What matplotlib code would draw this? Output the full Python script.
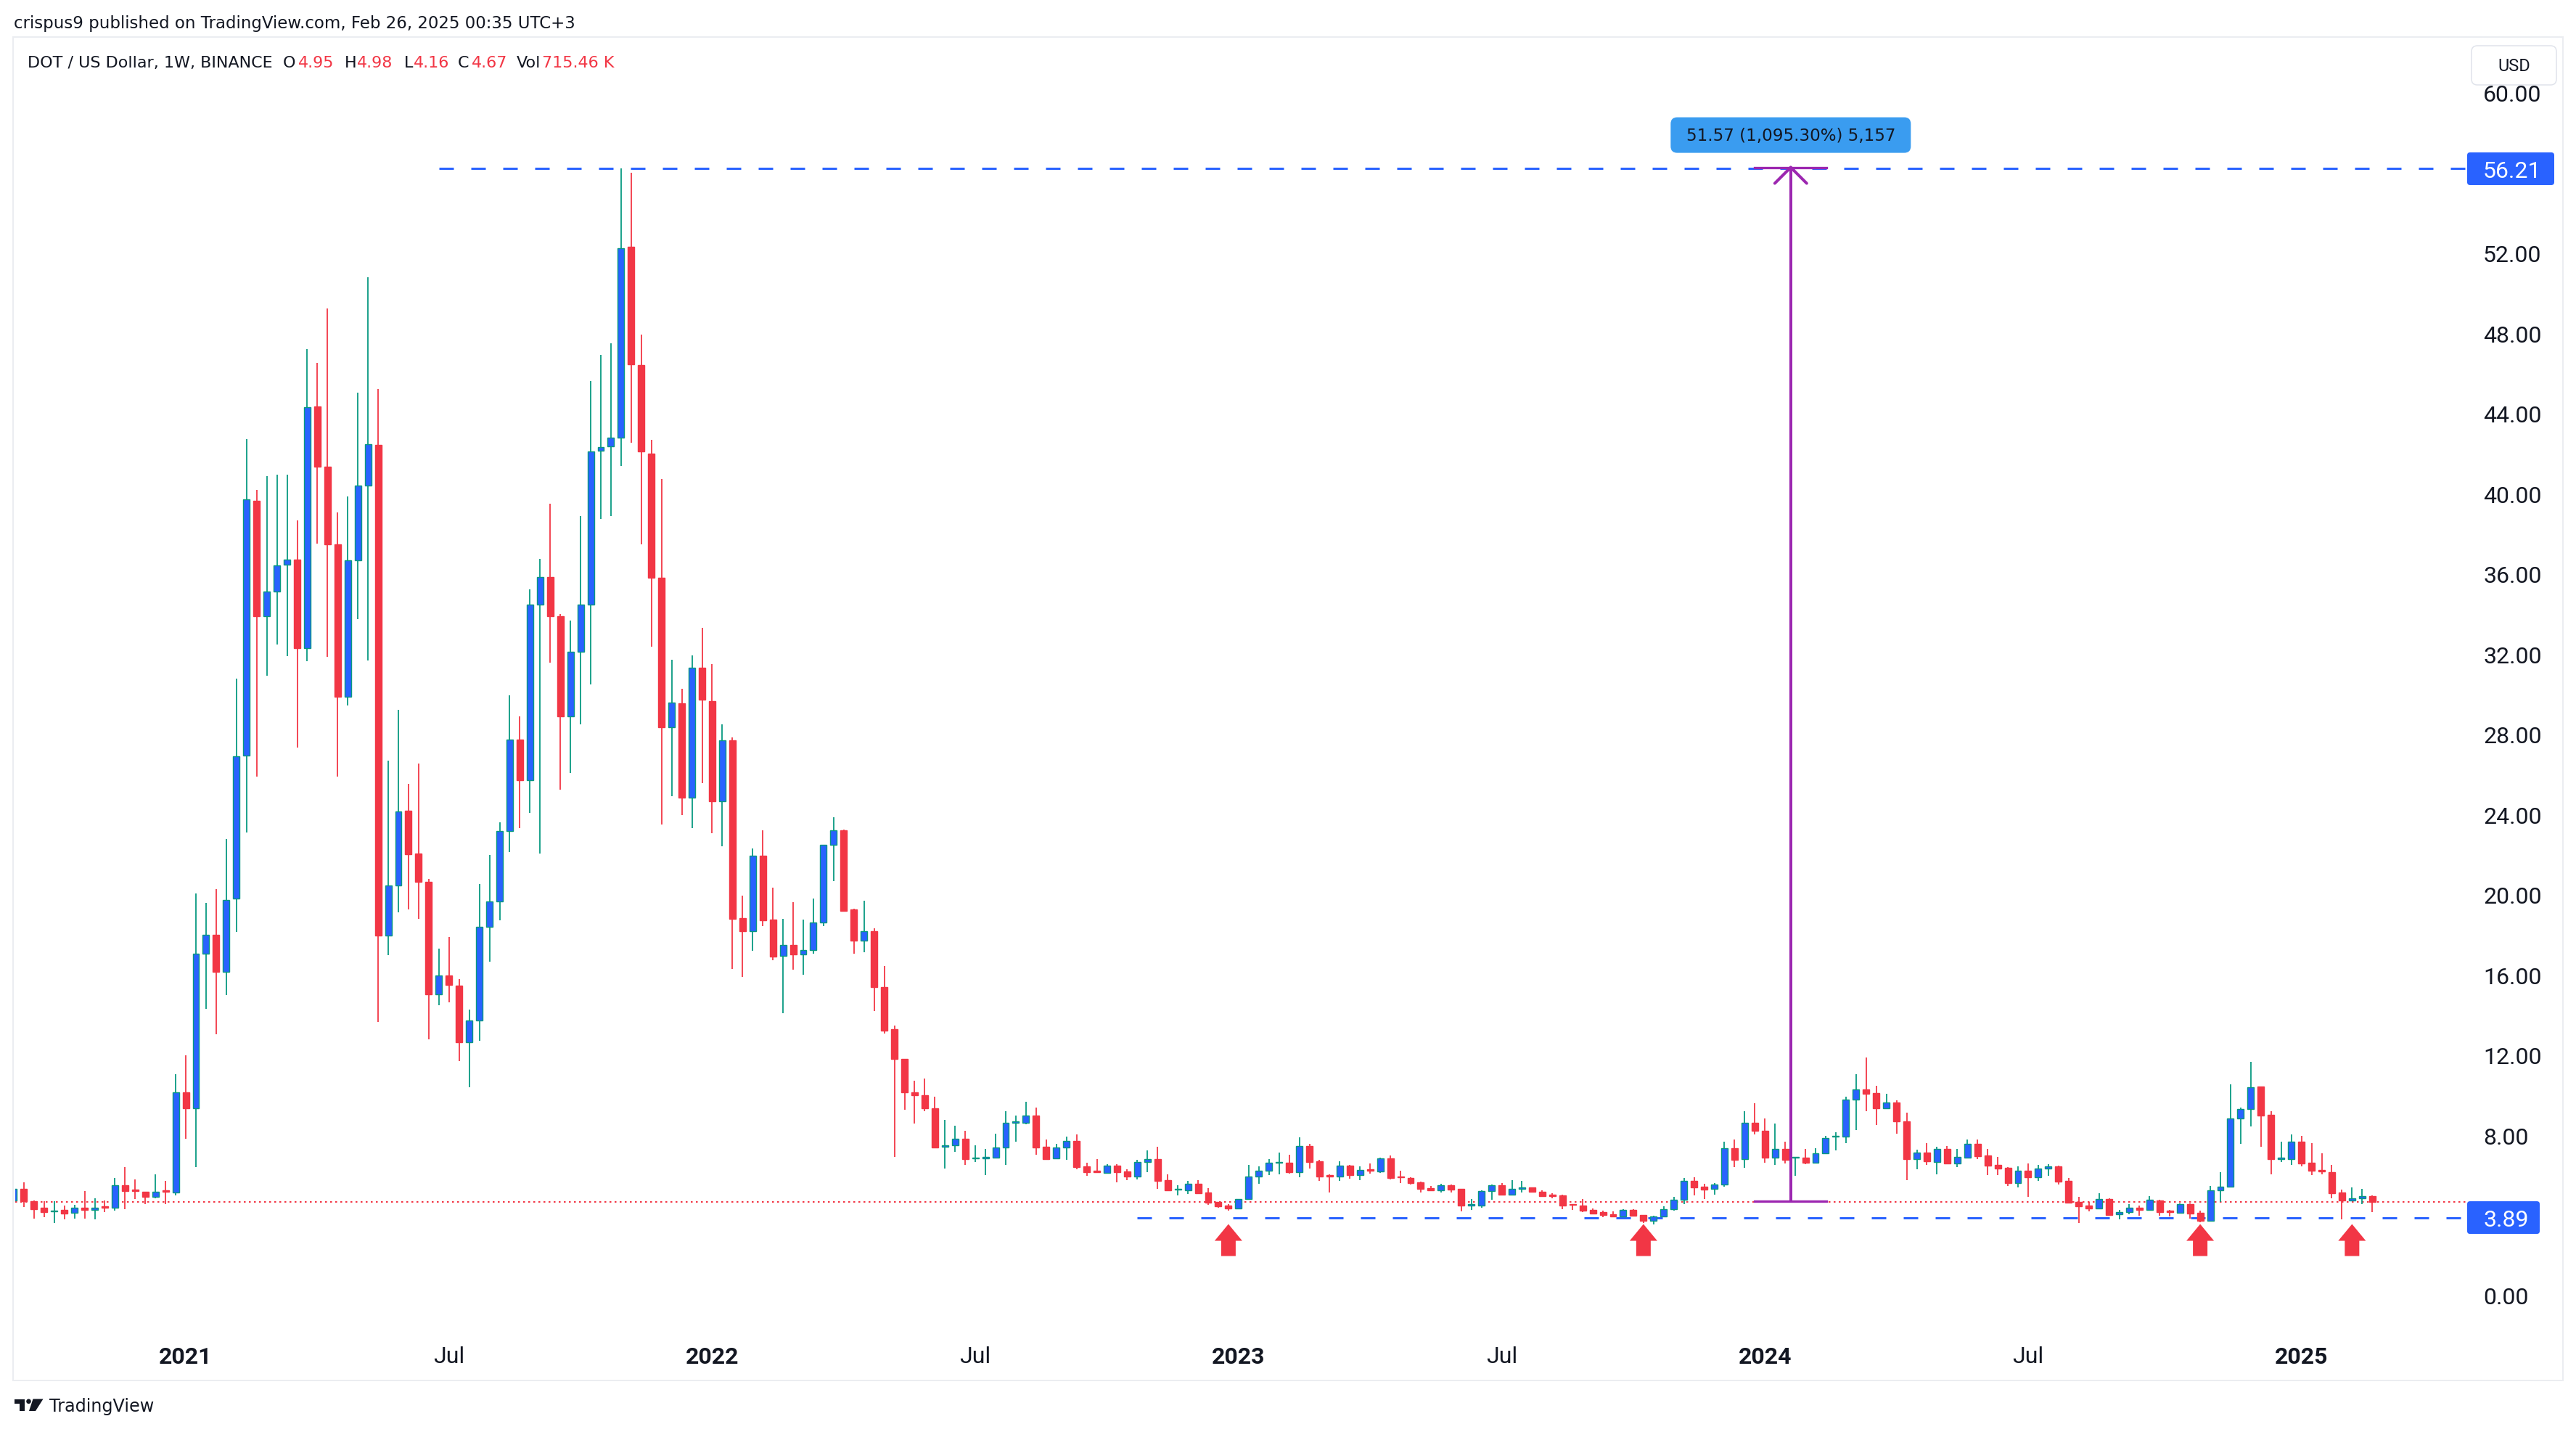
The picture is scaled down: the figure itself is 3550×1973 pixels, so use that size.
import numpy as np
import pandas as pd
import matplotlib
matplotlib.use("Agg")
import matplotlib.pyplot as plt
from matplotlib.patches import FancyBboxPatch, Polygon, Circle, Rectangle
from matplotlib.lines import Line2D
from matplotlib.transforms import IdentityTransform

plt.rcParams['font.family'] = ['Roboto', 'DejaVu Sans']
plt.rcParams['lines.scale_dashes'] = False
UI_FONT = ['DejaVu Sans']

# ---------------- data ----------------
publisher_line = "crispus9 published on TradingView.com, Feb 26, 2025 00:35 UTC+3"
symbol_title = "DOT / US Dollar, 1W, BINANCE"
volume_text = "715.46 K"
first_week = "2020-09-07"

opens = [4.74, 5.32, 4.69, 4.38, 4.19, 4.28, 4.13, 4.38, 4.28, 4.47,
         4.38, 5.51, 5.29, 5.16, 4.91, 5.26, 5.13, 10.15, 9.34, 17.06,
         18.00, 16.15, 19.79, 26.92, 39.66, 33.89, 35.11, 36.46, 36.71, 32.29,
         44.34, 41.33, 37.47, 29.87, 36.68, 40.39, 42.43, 17.97, 20.45, 24.19,
         22.06, 20.63, 15.02, 15.97, 15.46, 12.63, 13.71, 18.40, 19.67, 23.18,
         27.73, 25.72, 34.46, 35.83, 33.88, 28.88, 32.13, 34.46, 42.13, 42.36,
         42.81, 52.33, 46.41, 42.01, 35.80, 28.34, 29.55, 24.83, 31.33, 29.64,
         24.64, 27.70, 18.81, 18.16, 21.93, 18.77, 16.94, 17.50, 17.02, 17.24,
         18.62, 22.47, 23.20, 19.27, 17.72, 18.18, 15.39, 13.29, 11.79, 10.15,
         10.00, 9.33, 7.43, 7.49, 7.81, 6.83, 6.84, 6.89, 7.37, 8.63,
         8.63, 8.98, 7.42, 6.86, 7.37, 7.70, 6.44, 6.23, 6.13, 6.48,
         6.18, 5.95, 6.65, 6.81, 5.76, 5.29, 5.26, 5.56, 5.14, 4.67,
         4.49, 4.36, 4.80, 5.94, 6.22, 6.61, 6.61, 6.17, 7.46, 6.70,
         6.01, 5.95, 6.48, 6.02, 6.30, 6.20, 6.84, 5.94, 5.87, 5.65,
         5.36, 5.26, 5.50, 5.32, 4.50, 4.50, 5.20, 5.49, 5.04, 5.31,
         5.38, 5.16, 5.02, 4.98, 4.55, 4.48, 4.27, 4.16, 4.06, 3.96,
         4.27, 4.01, 3.72, 3.96, 4.30, 4.77, 5.71, 5.43, 5.31, 5.53,
         7.34, 6.80, 8.61, 8.21, 6.89, 7.30, 6.87, 6.87, 6.64, 7.08,
         7.92, 7.92, 9.79, 10.27, 10.10, 9.35, 9.62, 8.70, 6.82, 7.13,
         6.67, 7.31, 6.60, 6.89, 7.55, 6.99, 6.52, 6.38, 5.62, 6.22,
         5.89, 6.32, 6.43, 5.72, 4.67, 4.49, 4.36, 4.81, 4.04, 4.15,
         4.38, 4.28, 4.74, 4.25, 4.14, 4.56, 4.13, 3.74, 5.24, 5.42,
         8.82, 9.29, 10.41, 9.03, 6.82, 6.82, 7.68, 6.62, 6.26, 6.15,
         5.14, 4.75, 4.86, 4.95]

highs = [5.36, 5.66, 4.75, 4.69, 4.69, 4.50, 4.53, 5.22, 4.85, 4.75,
         5.85, 6.42, 5.79, 5.16, 6.04, 5.72, 11.06, 12.00, 20.07, 19.60,
         20.26, 22.77, 30.78, 42.71, 40.20, 40.89, 40.95, 40.95, 38.66, 47.23,
         46.51, 49.24, 39.07, 39.85, 45.03, 50.78, 45.22, 26.67, 29.21, 25.53,
         26.55, 20.79, 17.31, 17.89, 15.78, 14.28, 20.53, 21.96, 23.59, 29.96,
         28.88, 35.22, 36.75, 39.49, 33.98, 33.66, 38.89, 45.61, 46.92, 47.49,
         56.21, 56.00, 47.94, 42.68, 40.73, 31.72, 30.28, 31.94, 33.31, 31.49,
         28.50, 27.83, 19.95, 22.30, 23.20, 20.34, 18.79, 19.62, 18.75, 19.81,
         22.47, 23.85, 23.25, 19.31, 19.69, 18.33, 16.43, 13.47, 11.79, 10.72,
         10.83, 9.92, 8.76, 8.47, 8.22, 7.49, 7.31, 8.07, 9.19, 8.98,
         9.67, 9.38, 7.78, 7.57, 7.92, 8.04, 6.63, 6.81, 6.55, 6.55,
         6.30, 6.77, 7.24, 7.42, 6.05, 5.50, 5.72, 5.76, 5.36, 4.67,
         4.56, 4.80, 6.52, 6.44, 6.81, 7.13, 7.02, 7.89, 7.57, 6.77,
         6.05, 6.70, 6.52, 6.44, 6.59, 6.88, 6.99, 6.23, 5.90, 5.68,
         5.47, 5.58, 5.54, 5.32, 4.83, 5.25, 5.53, 5.61, 5.76, 5.71,
         5.38, 5.25, 5.10, 5.02, 4.56, 4.82, 4.34, 4.23, 4.20, 4.31,
         4.31, 4.01, 3.98, 4.45, 4.92, 5.87, 5.90, 5.58, 5.60, 7.68,
         7.78, 9.20, 9.59, 8.83, 8.58, 7.68, 6.90, 7.31, 7.34, 7.97,
         8.13, 9.93, 11.04, 11.87, 10.46, 10.06, 9.74, 9.13, 7.27, 7.60,
         7.42, 7.45, 7.31, 7.77, 7.77, 7.31, 6.91, 6.41, 6.44, 6.59,
         6.52, 6.55, 6.47, 5.86, 4.92, 4.67, 5.10, 4.85, 4.27, 4.55,
         4.49, 4.96, 4.78, 4.27, 4.60, 4.60, 4.24, 5.47, 6.15, 10.52,
         9.38, 11.66, 10.41, 9.20, 7.68, 8.04, 7.96, 7.60, 7.10, 6.52,
         5.29, 5.39, 5.32, 4.98]

lows = [4.70, 4.41, 3.84, 3.90, 3.62, 3.81, 3.84, 3.84, 3.81, 4.16,
        4.25, 4.31, 4.81, 4.56, 4.85, 4.56, 5.00, 7.83, 6.42, 14.30,
        13.04, 14.99, 18.13, 23.09, 25.88, 30.91, 32.48, 31.91, 27.33, 31.63,
        37.50, 31.85, 25.88, 29.43, 33.76, 31.69, 13.64, 16.97, 19.10, 19.26,
        18.78, 12.79, 14.48, 14.64, 11.70, 10.40, 12.72, 16.64, 18.71, 22.12,
        23.30, 24.07, 22.06, 31.56, 25.25, 26.08, 28.50, 30.47, 38.73, 38.89,
        41.37, 42.55, 37.48, 32.35, 23.49, 24.90, 23.97, 23.30, 25.57, 23.08,
        22.41, 16.29, 15.91, 17.18, 18.42, 16.74, 14.10, 16.24, 16.02, 17.04,
        18.44, 20.69, 19.20, 17.04, 17.13, 14.21, 13.08, 6.93, 9.26, 8.58,
        9.19, 7.37, 6.35, 7.18, 6.53, 6.65, 6.02, 6.89, 6.53, 7.68,
        8.54, 7.04, 6.82, 6.82, 6.78, 6.31, 5.99, 6.12, 6.09, 5.66,
        5.77, 5.81, 6.17, 5.33, 5.26, 5.01, 5.08, 5.12, 4.54, 4.38,
        4.25, 4.32, 4.80, 5.58, 6.01, 6.05, 6.09, 5.91, 6.35, 5.73,
        5.15, 5.73, 5.84, 5.77, 6.09, 6.13, 5.81, 5.61, 5.55, 5.15,
        5.22, 5.15, 5.15, 4.20, 4.28, 4.39, 4.77, 5.01, 5.01, 5.13,
        5.13, 4.92, 4.86, 4.32, 4.28, 4.18, 4.10, 3.92, 3.96, 3.92,
        3.96, 3.62, 3.56, 3.90, 4.25, 4.56, 5.01, 4.83, 5.04, 5.44,
        6.42, 6.37, 8.05, 6.64, 6.53, 6.60, 5.99, 6.56, 6.61, 7.05,
        7.24, 7.62, 8.27, 9.21, 8.51, 9.32, 8.09, 5.77, 6.31, 6.53,
        6.06, 6.60, 6.42, 6.85, 6.82, 6.02, 6.02, 5.48, 5.41, 4.94,
        5.73, 5.99, 5.55, 4.59, 3.63, 4.21, 4.33, 4.03, 3.81, 4.07,
        3.99, 4.25, 3.98, 3.96, 4.14, 3.85, 3.67, 3.70, 4.68, 5.42,
        7.58, 8.45, 7.42, 6.05, 6.67, 6.53, 6.46, 6.02, 6.06, 4.86,
        3.81, 4.72, 4.58, 4.16]

closes = [5.32, 4.69, 4.31, 4.16, 4.25, 4.09, 4.38, 4.28, 4.38, 4.38,
          5.51, 5.22, 5.22, 4.91, 5.16, 5.19, 10.15, 9.34, 17.06, 18.00,
          16.15, 19.73, 26.89, 39.70, 33.89, 35.11, 36.43, 36.71, 32.29, 44.31,
          41.33, 37.47, 29.87, 36.68, 40.39, 42.46, 17.97, 20.45, 24.16, 22.03,
          20.63, 15.02, 15.97, 15.50, 12.63, 13.71, 18.40, 19.67, 23.18, 27.73,
          25.72, 34.46, 35.83, 33.88, 28.88, 32.13, 34.46, 42.10, 42.33, 42.81,
          52.24, 46.44, 42.10, 35.80, 28.34, 29.58, 24.83, 31.33, 29.71, 24.64,
          27.70, 18.78, 18.16, 21.93, 18.73, 16.89, 17.50, 17.00, 17.22, 18.62,
          22.47, 23.22, 19.20, 17.72, 18.16, 15.37, 13.23, 11.79, 10.15, 10.00,
          9.33, 7.37, 7.49, 7.81, 6.82, 6.88, 6.90, 7.37, 8.60, 8.69,
          8.98, 7.40, 6.82, 7.37, 7.70, 6.42, 6.17, 6.17, 6.48, 6.17,
          5.95, 6.65, 6.79, 5.73, 5.26, 5.32, 5.56, 5.12, 4.65, 4.47,
          4.36, 4.80, 5.94, 6.23, 6.61, 6.65, 6.17, 7.46, 6.67, 5.95,
          5.95, 6.48, 6.02, 6.25, 6.24, 6.84, 5.87, 5.89, 5.62, 5.33,
          5.26, 5.50, 5.30, 4.50, 4.56, 5.21, 5.49, 5.04, 5.31, 5.38,
          5.16, 4.97, 4.97, 4.50, 4.53, 4.25, 4.10, 4.03, 3.96, 4.27,
          3.99, 3.74, 3.96, 4.30, 4.77, 5.71, 5.41, 5.30, 5.53, 7.34,
          6.76, 8.61, 8.21, 6.89, 7.30, 6.78, 6.90, 6.64, 7.08, 7.85,
          7.97, 9.76, 10.27, 10.08, 9.35, 9.62, 8.70, 6.82, 7.13, 6.71,
          7.31, 6.60, 6.90, 7.55, 6.96, 6.49, 6.35, 5.62, 6.22, 5.89,
          6.34, 6.43, 5.70, 4.65, 4.47, 4.36, 4.81, 4.03, 4.16, 4.37,
          4.28, 4.78, 4.18, 4.18, 4.56, 4.10, 3.74, 5.24, 5.42, 8.82,
          9.29, 10.39, 8.99, 6.82, 6.88, 7.68, 6.60, 6.24, 6.20, 5.12,
          4.75, 4.85, 4.96, 4.67]

time_tick_dates = ["2021-01-04", "2021-07-05", "2022-01-03", "2022-07-04", "2023-01-02",
                   "2023-07-03", "2024-01-01", "2024-07-01", "2025-01-06"]
time_tick_labels = ["2021", "Jul", "2022", "Jul", "2023", "Jul", "2024", "Jul", "2025"]
price_ticks = [0, 8, 12, 16, 20, 24, 28, 32, 36, 40, 44, 48, 52, 60]

resistance_level = 56.21
resistance_from = "2021-06-28"
support_level = 3.89
support_from = "2022-10-24"
bounce_dates = ["2022-12-26", "2023-10-09", "2024-10-28", "2025-02-10"]

measure_low = 4.708
measure_high = 56.278
measure_text = "51.57 (1,095.30%) 5,157"

# ---------------- style / layout ----------------
W, H, DPI = 3550, 1974, 100
UP_FILL, UP_EDGE, DOWN = "#2962FF", "#089981", "#F23645"
BLUE, PURPLE, TXT = "#2962FF", "#9C27B0", "#131722"
PX = 72.0 / DPI  # points per pixel

dates = pd.date_range(first_week, periods=len(opens), freq="W-MON")
pos = {d.strftime("%Y-%m-%d"): i for i, d in enumerate(dates)}
x = np.arange(len(opens))
o, h, l, c = (np.array(v, dtype=float) for v in (opens, highs, lows, closes))
up = c >= o

fig = plt.figure(figsize=(W / DPI, H / DPI), dpi=DPI)
fig.patch.set_facecolor("white")
renderer = fig.canvas.get_renderer()
A_L, A_R, A_T, A_B = 21, 3398, 52, 1838
ax = fig.add_axes([A_L / W, 1 - A_B / H, (A_R - A_L) / W, (A_B - A_T) / H])
ax.set_facecolor("white")
for s in ax.spines.values():
    s.set_visible(False)

pitch, first_px = 13.95, 18.9
ax.set_xlim((A_L - first_px) / pitch, (A_R - first_px) / pitch)
ppd = 27.62
zero_px = 1786
ax.set_ylim((zero_px - A_B) / ppd, (zero_px - A_T) / ppd)


def fit_text(xf, yf, s, target_w, **kw):
    """Place text and scale its font size so its rendered width matches target_w px."""
    t = fig.text(xf, yf, s, fontsize=16, **kw)
    w = t.get_window_extent(renderer).width
    t.set_fontsize(16 * target_w / w)
    return t


# reference lines
ax.axhline(closes[-1], color=DOWN, lw=2 * PX, ls=(0, (2.5 * PX, 4.5 * PX)), zorder=1)
xr = ax.get_xlim()[1]
ax.hlines(resistance_level, pos[resistance_from], xr, color=BLUE, lw=3 * PX,
          linestyles=[(0, (20 * PX, 24 * PX))], zorder=1)
ax.hlines(support_level, pos[support_from], xr, color=BLUE, lw=3 * PX,
          linestyles=[(0, (20 * PX, 24 * PX))], zorder=1)

# candles
wick_col = np.where(up, UP_EDGE, DOWN)
ax.vlines(x, l, h, colors=wick_col, lw=1.8 * PX, zorder=2)
bot = np.minimum(o, c)
hgt = np.maximum(np.abs(c - o), 0.03)
ax.bar(x[up], hgt[up], bottom=bot[up], width=0.64, color=UP_FILL,
       edgecolor=UP_EDGE, linewidth=1.4 * PX, zorder=3)
ax.bar(x[~up], hgt[~up], bottom=bot[~up], width=0.64, color=DOWN,
       edgecolor=DOWN, linewidth=1.4 * PX, zorder=3)

# axes ticks
ax.yaxis.tick_right()
ax.set_yticks(price_ticks)
ax.set_yticklabels([f"{v:.2f}" for v in price_ticks])
ax.tick_params(axis="y", length=0, pad=24 * PX, labelsize=23, labelcolor=TXT)
ax.set_xticks([pos[d] for d in time_tick_dates])
ax.set_xticklabels(time_tick_labels)
ax.tick_params(axis="x", length=0, pad=17 * PX, labelsize=23, labelcolor=TXT)
for t in ax.get_xticklabels():
    if t.get_text() != "Jul":
        t.set_fontweight("bold")


def to_px(xd, yd):
    return ax.transData.transform((xd, yd))


# measurement tool
mx = 175.55
mx0, mx1 = 172.0, 179.1
ax.plot([mx, mx], [measure_low, measure_high], color=PURPLE, lw=4 * PX, zorder=4,
        solid_capstyle="butt")
ax.plot([mx0, mx1], [measure_low, measure_low], color=PURPLE, lw=3.3 * PX, zorder=4)
ax.plot([mx0, mx1], [measure_high, measure_high], color=PURPLE, lw=3.3 * PX, zorder=4)
AX, AY = to_px(mx, measure_high)
for sgn in (-1, 1):
    fig.add_artist(Line2D([AX + sgn * 22, AX], [AY - 22, AY], transform=IdentityTransform(),
                          color=PURPLE, lw=4 * PX, zorder=4, solid_capstyle="round"))
bw, bh = 331, 49
fig.add_artist(FancyBboxPatch((AX - bw / 2, AY + 20), bw, bh,
                              boxstyle="round,pad=0,rounding_size=9",
                              transform=IdentityTransform(), fc="#3A9CF0", ec="none", zorder=5))
fit_text(AX / W, (AY + 20 + bh / 2) / H, measure_text, 290, ha="center", va="center",
         color=TXT, zorder=6, family=UI_FONT)

# bounce arrows
for d in bounce_dates:
    X, Ys = to_px(pos[d], support_level)
    ya = Ys - 9
    verts = [(X, ya), (X + 19, ya - 23), (X + 10, ya - 23), (X + 10, ya - 44),
             (X - 10, ya - 44), (X - 10, ya - 23), (X - 19, ya - 23)]
    fig.add_artist(Polygon(verts, closed=True, transform=IdentityTransform(),
                           fc=DOWN, ec="none", zorder=4))

# price axis highlight labels
for val, bwid in ((resistance_level, 120), (support_level, 100)):
    _, Y = to_px(0, val)
    fig.add_artist(FancyBboxPatch((3400, Y - 22.5), bwid, 45,
                                  boxstyle="round,pad=0,rounding_size=4",
                                  transform=IdentityTransform(), fc=BLUE, ec="none", zorder=5))
    fig.text(3422 / W, Y / H, f"{val:.2f}", ha="left", va="center_baseline",
             fontsize=23, color="white", zorder=6)

# USD box
fig.add_artist(FancyBboxPatch((3406, H - 118), 117, 54, boxstyle="round,pad=0,rounding_size=8",
                              transform=IdentityTransform(), fc="white", ec="#E0E3EB",
                              lw=1.5 * PX, zorder=7))
fig.text(3464.5 / W, 1 - 91 / H, "USD", ha="center", va="center", fontsize=17,
         color=TXT, zorder=8)

# panel border
fig.add_artist(Rectangle((18, H - 1903), 3514, 1903 - 52, transform=IdentityTransform(),
                         fill=False, ec="#EBEDF1", lw=2 * PX, zorder=9))

# header texts
fit_text(19 / W, 1 - 33 / H, publisher_line, 775, ha="left", va="center",
         color=TXT, family=UI_FONT)

yl = 1 - 87 / H
title_t = fit_text(38 / W, yl, symbol_title, 338, ha="left", va="center",
                   color=TXT, family=UI_FONT)
legend_fs = title_t.get_fontsize()
legend_pieces = [("O", TXT, 390), (f"{opens[-1]:.2f}", DOWN, 411),
                 ("H", TXT, 475), (f"{highs[-1]:.2f}", DOWN, 492), ("L", TXT, 557),
                 (f"{lows[-1]:.2f}", DOWN, 570), ("C", TXT, 631),
                 (f"{closes[-1]:.2f}", DOWN, 650), ("Vol", TXT, 712), (volume_text, DOWN, 747)]
for txt, col, xpx in legend_pieces:
    fig.text(xpx / W, yl, txt, ha="left", va="center", fontsize=legend_fs, color=col,
             family=UI_FONT)

# TradingView logo
def frect(x0, y0, x1, y1):
    return Rectangle((x0, H - y1), x1 - x0, y1 - y0, transform=IdentityTransform(),
                     fc=TXT, ec="none")
fig.add_artist(frect(20, 1928.5, 33.5, 1934.5))
fig.add_artist(frect(27, 1928.5, 33.5, 1945))
fig.add_artist(Circle((39.5, H - 1931.8), 3.3, transform=IdentityTransform(), fc=TXT, ec="none"))
fig.add_artist(Polygon([(45.5, H - 1928.5), (59.5, H - 1928.5), (49, H - 1945), (40, H - 1945)],
                       closed=True, transform=IdentityTransform(), fc=TXT, ec="none"))
fit_text(68 / W, 1 - 1945 / H, "TradingView", 145, ha="left", va="baseline",
         color=TXT, family=UI_FONT)

fig.savefig("out.png", dpi=DPI, facecolor="white")
